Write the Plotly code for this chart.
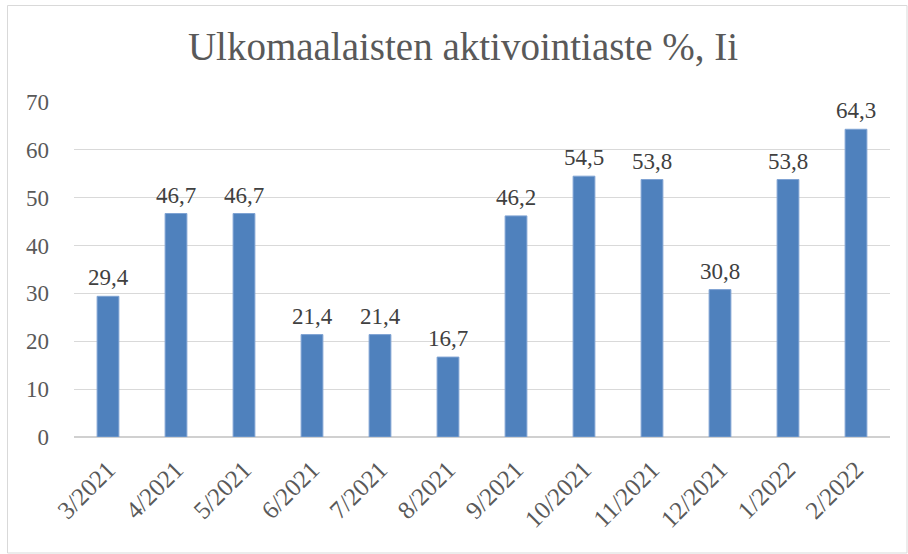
import plotly.graph_objects as go

categories = ["3/2021", "4/2021", "5/2021", "6/2021", "7/2021", "8/2021",
              "9/2021", "10/2021", "11/2021", "12/2021", "1/2022", "2/2022"]
values = [29.4, 46.7, 46.7, 21.4, 21.4, 16.7, 46.2, 54.5, 53.8, 30.8, 53.8, 64.3]
labels = [f"{v:.1f}".replace(".", ",") for v in values]
title_text = "Ulkomaalaisten aktivointiaste %, Ii"

FONT = "Liberation Serif"

fig = go.Figure(go.Bar(
    x=categories, y=values,
    marker=dict(color="#4f81bd", line=dict(color="#7fa3d3", width=1)),
))

for c, v, t in zip(categories, values, labels):
    fig.add_annotation(x=c, y=v, text=t, showarrow=False, yanchor="bottom",
                       yshift=4, font=dict(family=FONT, size=23, color="#404040"))

L, R, T, B = 74, 18, 102, 117
W, H = 908, 554
pw, ph = W - L - R, H - T - B

def px(x):
    return (x - L) / pw

def py(y):
    return (H - B - y) / ph

fig.update_layout(
    width=W, height=H,
    margin=dict(l=L, r=R, t=T, b=B, autoexpand=False),
    paper_bgcolor="white", plot_bgcolor="white",
    bargap=0.68,
    showlegend=False,
    title=dict(text=title_text, x=px(463), xref="paper", xanchor="center",
               y=1 - 46 / H, yanchor="middle", yref="container",
               font=dict(family=FONT, size=39, color="#595959")),
    font=dict(family=FONT, color="#595959"),
    xaxis=dict(type="category", tickangle=-45, showgrid=False, showline=False,
               ticks="", ticklabelstandoff=12,
               tickfont=dict(family=FONT, size=25, color="#595959"),
               zeroline=False),
    yaxis=dict(range=[0, 70], dtick=10, showgrid=True, gridcolor="#d9d9d9",
               gridwidth=1, zeroline=True, zerolinecolor="#d0d0d0", zerolinewidth=1.5,
               ticks="", ticklabelstandoff=24,
               tickfont=dict(family=FONT, size=23, color="#595959")),
    shapes=[dict(type="rect", xref="paper", yref="paper",
                 x0=px(7.5), x1=px(907), y0=py(553), y1=py(5.5),
                 line=dict(color="#d9d9d9", width=1), fillcolor="rgba(0,0,0,0)",
                 layer="below")],
)

fig.write_html("out.html", config={"displayModeBar": False},
               post_script="document.body.style.margin='0';")
